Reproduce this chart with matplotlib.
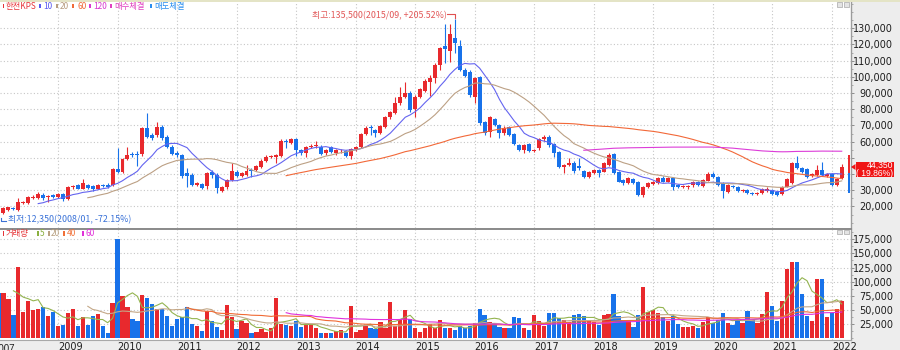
import numpy as np
import pandas as pd
import matplotlib
matplotlib.use("Agg")
import matplotlib.pyplot as plt
from matplotlib.patches import Rectangle, Polygon
from matplotlib.lines import Line2D

KR = ["Noto Sans CJK KR", "DejaVu Sans"]
NUM = ["Liberation Sans Narrow", "Liberation Sans", "DejaVu Sans"]

# ---- monthly OHLC / volume, 2007-12 .. 2022-03 ----
months = pd.period_range("2007-12", "2022-03", freq="M")

opens = [
    18000,
    19500, 16200, 17800, 19300, 17850, 22300, 21950, 25050, 25050, 27100, 25650, 27100,
    25650, 27700, 24400, 31850, 33250, 31000, 33250, 32650, 31000, 33250, 33250, 33250,
    42950, 41500, 49100, 52400, 52500, 52200, 68250, 64150, 64150, 68850, 63100, 56950,
    53250, 51800, 40450, 39450, 33250, 33900, 32850, 41500, 39450, 29750, 31850, 36400,
    41500, 38800, 39450, 42500, 42500, 44600, 48300, 50350, 50750, 51150, 60650, 59400,
    61450, 54850, 52800, 56950, 57300, 56950, 52800, 56950, 53250, 54000, 54450, 51150,
    55300, 56900, 64750, 69300, 67200, 65150, 69300, 75050, 77500, 83700, 87800, 89850,
    79950, 87800, 91500, 97000, 99000, 107350, 119100, 115950, 123800, 119050, 104250, 103250,
    87800, 99750, 72350, 66200, 73800, 70300, 65550, 68850, 64750, 57950, 54850, 58350,
    54450, 55900, 61450, 63100, 58600, 53850, 44500, 45600, 47050, 45000, 41900, 38400,
    40450, 42500, 41500, 45600, 52400, 41500, 36350, 34300, 36750, 35350, 27100, 31850,
    33900, 34700, 37400, 35350, 37400, 33250, 31850, 31850, 33000, 35350, 32650, 35950,
    40050, 38000, 34300, 29150, 32650, 31850, 29750, 30200, 28550, 27700, 28150, 29750,
    30200, 29150, 27700, 32250, 34300, 46650, 43550, 42950, 38850, 39450, 42550, 38850,
    40050, 33250, 37400,
]
highs = [
    24000,
    20500, 19900, 19900, 19800, 25050, 23500, 26500, 27000, 28950, 28000, 27000, 27700,
    28500, 28300, 32500, 33500, 33800, 36750, 34000, 33300, 34000, 34000, 34300, 44000,
    55900, 50000, 56500, 53500, 54000, 69000, 77500, 65500, 72350, 70000, 64000, 58000,
    54000, 52500, 43550, 40500, 35000, 34500, 41500, 42500, 40500, 32500, 37000, 46650,
    42500, 41500, 45500, 43550, 45800, 49000, 51500, 52000, 52500, 61500, 61500, 62500,
    62000, 55500, 57500, 58500, 60650, 57800, 55500, 57500, 55500, 55500, 55000, 56000,
    57500, 65500, 69700, 70200, 68000, 70500, 76000, 79000, 87800, 93550, 97050, 91000,
    88500, 93000, 98500, 101000, 108500, 118500, 132600, 132600, 135500, 122800, 105500, 104000,
    100000, 100500, 73000, 76000, 74500, 71000, 69500, 69500, 65500, 58500, 58500, 59000,
    55500, 62000, 64150, 64000, 59000, 54500, 46000, 49750, 48000, 50150, 42500, 42000,
    43000, 43000, 47500, 52800, 53000, 42000, 37000, 38000, 37300, 36000, 32500, 35000,
    36000, 38000, 38850, 38000, 38000, 33800, 33200, 33200, 36000, 36000, 37000, 41500,
    41500, 38500, 35000, 34000, 33300, 32500, 30800, 30800, 29000, 29000, 31200, 31850,
    30800, 29700, 32400, 37400, 47500, 51150, 44500, 43500, 40800, 45600, 47700, 40800,
    40800, 37600, 46250,
]
lows = [
    16000,
    12350, 15400, 17200, 17900, 17450, 21500, 21500, 24500, 24800, 24000, 22500, 25000,
    25000, 23500, 23900, 31000, 30500, 30500, 30500, 29800, 30600, 32000, 31500, 32800,
    40500, 40800, 48500, 50500, 45000, 51000, 62000, 61000, 63000, 61000, 56000, 51500,
    50500, 37500, 32250, 32500, 32500, 30500, 31000, 37500, 28150, 29000, 31000, 35800,
    38000, 38000, 39000, 38400, 42000, 44000, 47500, 49800, 46650, 50500, 55900, 58500,
    51150, 52000, 50750, 56000, 55900, 51800, 52000, 53000, 51800, 53200, 50500, 49100,
    54500, 56000, 64000, 64150, 63100, 64500, 68500, 74000, 77000, 82500, 87000, 78500,
    75050, 87000, 90500, 88000, 96500, 104250, 108400, 109400, 114700, 103500, 99750, 87500,
    83700, 70500, 64000, 63100, 69500, 62100, 64150, 63500, 58000, 54000, 52800, 53800,
    53800, 55000, 60500, 57000, 50750, 44000, 40450, 45000, 40450, 42500, 37800, 37800,
    40000, 38400, 41000, 45000, 40000, 34800, 33500, 33800, 33800, 26500, 26050, 31200,
    33300, 34000, 34800, 34800, 30200, 31500, 31200, 30600, 31850, 32800, 32000, 35500,
    37500, 32800, 25050, 28600, 31200, 29200, 29200, 27600, 27000, 27200, 27600, 29200,
    27200, 26600, 27200, 31800, 33800, 42900, 40500, 37800, 38200, 39000, 38800, 38200,
    32600, 32500, 36800,
]
closes = [
    19500,
    16200, 18900, 19500, 18250, 22950, 22900, 25650, 26050, 27700, 25050, 26500, 25650,
    27700, 24400, 31850, 32650, 31000, 34300, 31200, 30600, 33250, 32650, 32250, 42950,
    41500, 49100, 51800, 51800, 51800, 68250, 63100, 62100, 68850, 62100, 56950, 52400,
    51800, 38850, 38850, 33250, 34300, 31200, 40450, 39450, 31200, 31850, 36400, 42100,
    38800, 40450, 42100, 41900, 45000, 48300, 50750, 51150, 51800, 60650, 60000, 61450,
    54850, 52800, 56950, 57550, 57800, 52400, 54850, 53850, 54850, 54500, 51150, 55300,
    56950, 64750, 68250, 68250, 65150, 69700, 75050, 78150, 83700, 87400, 90250, 79550,
    87800, 92300, 97450, 99000, 107350, 117650, 117450, 126250, 120700, 104250, 100550, 88850,
    99100, 71350, 65150, 75450, 70300, 65150, 68650, 64150, 58600, 54850, 57950, 54450,
    54850, 61450, 63100, 57950, 53250, 44600, 45600, 46650, 41900, 43550, 38400, 41500,
    42500, 40450, 46650, 51800, 40900, 35350, 34300, 37400, 34300, 27100, 31850, 34300,
    35350, 37400, 35350, 37400, 31850, 32250, 32650, 32650, 35350, 33250, 36350, 40050,
    38000, 33250, 29750, 33250, 31850, 29750, 30200, 28150, 27500, 28550, 30600, 30600,
    27700, 27100, 31850, 36750, 46650, 43550, 41500, 38400, 40050, 42550, 39450, 40050,
    33250, 37000, 44350,
]
volumes = [
    150000,
    80000, 79300, 68700, 40900, 126500, 46800, 65700, 49800, 51600, 55700, 39800, 46800,
    21500, 23200, 45100, 51600, 21500, 38000, 23200, 39200, 42700, 21500, 9650, 61600,
    175500, 74600, 55700, 33300, 30900, 76400, 71600, 61000, 51600, 51600, 39800, 21500,
    33300, 36800, 55700, 25000, 21500, 13200, 48000, 30900, 20300, 14400, 58500, 38000,
    15600, 30900, 27400, 8500, 11400, 15600, 11400, 17300, 71600, 25000, 23200, 21500,
    30300, 20300, 24400, 24400, 18500, 9650, 8500, 9650, 12600, 14400, 9650, 56900,
    11400, 14400, 22100, 18500, 16100, 29100, 17300, 64000, 21500, 33300, 49800, 33300,
    17300, 11400, 17300, 24400, 17300, 32000, 18500, 17300, 14400, 21500, 17300, 21500,
    27400, 51000, 40900, 29100, 27400, 20300, 18500, 18500, 38000, 35000, 17300, 14400,
    40900, 30900, 21500, 43900, 43900, 35000, 32100, 29100, 40900, 42700, 39200, 30900,
    29100, 23200, 40900, 42700, 78100, 39200, 32000, 30900, 20300, 40900, 91100, 46800,
    49800, 45100, 36800, 30900, 39100, 25000, 20300, 20300, 21500, 17300, 29100, 36800,
    27400, 32100, 43900, 27400, 23200, 32100, 27400, 48600, 32100, 27400, 42700, 81100,
    57000, 31000, 65700, 122400, 134200, 134200, 78100, 39200, 30300, 104100, 104100, 36800,
    43900, 51000, 66300,
]

# current-month execution bar (buy side above, sell side below)
exec_buy = (40500, 51800)
exec_sell = (28500, 40500)

price_ma = [(10, "#6464f0"), (20, "#bca084"), (60, "#f26838"), (120, "#dc3cd8")]
volume_ma = [(5, "#94b450"), (20, "#c4a888"), (40, "#f06a34"), (60, "#e030dc")]
price_ticks = list(range(20000, 130001, 10000))
volume_ticks = list(range(25000, 175001, 25000))

o = np.array(opens, float)
h = np.array(highs, float)
l = np.array(lows, float)
c = np.array(closes, float)
v = np.array(volumes, float)
x = np.arange(len(months))

UP, DOWN = "#e8292d", "#1872ea"
colors = np.where(c >= o, UP, DOWN)

W, H = 900.0, 350.0
fig = plt.figure(figsize=(9, 3.5), dpi=100, facecolor="#ededed")


def box(x0, y0, x1, y1):
    return [x0 / W, 1 - y1 / H, (x1 - x0) / W, (y1 - y0) / H]


def px_rect(x0, y0, x1, y1, **kw):
    kw.setdefault("zorder", 10)
    r = Rectangle((x0 / W, 1 - y1 / H), (x1 - x0) / W, (y1 - y0) / H,
                  transform=fig.transFigure, **kw)
    fig.add_artist(r)
    return r


def px_text(xp, yp, s, color, size=6.0, ha="left", va="center", family=KR, **kw):
    return fig.text(xp / W, 1 - yp / H, s, color=color, fontsize=size,
                    ha=ha, va=va, family=family, zorder=11, **kw)


axp = fig.add_axes(box(0, 2, 851, 228))
axv = fig.add_axes(box(0, 229, 851, 340))

jan_idx = [i for i, p in enumerate(months) if p.month == 1 and p.year >= 2009]

for ax in (axp, axv):
    ax.set_facecolor("white")
    ax.set_xlim(1.30, 172.87)
    for s in ("top", "left"):
        ax.spines[s].set_visible(False)
    ax.spines["bottom"].set_visible(ax is axv)
    ax.spines["bottom"].set_color("#a8a8a8")
    ax.spines["right"].set_color("#9c9c9c")
    ax.spines["right"].set_linewidth(1.0)
    ax.yaxis.tick_right()
    ax.set_xticks(jan_idx)
    ax.tick_params(axis="x", length=0)
    ax.tick_params(axis="y", which="major", length=2.5, width=0.7, color="#8c8c8c",
                   labelsize=7, labelcolor="#1e1e1e", pad=27.7, labelfontfamily=NUM[0])
    ax.tick_params(axis="y", which="minor", length=1.5, width=0.6, color="#a0a0a0")
    ax.grid(True, which="major", color="#c6c6c6", linestyle=(0, (1, 2)), linewidth=0.8)
    ax.set_axisbelow(True)

axp.tick_params(axis="x", labelbottom=False)

# ---- price panel ----
axp.set_ylim(6700, 146200)
axp.set_yticks(price_ticks)
axp.set_yticks(range(10000, 146000, 5000), minor=True)
axp.set_yticklabels([f"{t:,}" for t in price_ticks])

axp.vlines(x, l, h, colors=colors, linewidth=0.8, zorder=3)
body_lo = np.minimum(o, c)
body_h = np.maximum(np.abs(c - o), 300)
axp.bar(x, body_h, bottom=body_lo, width=0.8, color=colors, linewidth=0, zorder=4)

cs = pd.Series(c)
for win, col in price_ma:
    axp.plot(x, cs.rolling(win).mean(), color=col, lw=0.8, zorder=5)

# execution bar at the right edge
xe = x[-1] + 1.45
axp.bar(xe, exec_buy[1] - exec_buy[0], bottom=exec_buy[0], width=0.46, color="#ec2a2e", lw=0, zorder=4)
axp.bar(xe, exec_sell[1] - exec_sell[0], bottom=exec_sell[0], width=0.46, color="#1a74ea", lw=0, zorder=4)

# highest / lowest annotations
last = c[-1]
ih = int(np.argmax(h))
hi = h[ih]
hi_txt = f"최고:{hi:,.0f}({months[ih].strftime('%Y/%m')}, {(hi / last - 1) * 100:+.2f}%)"
axp.plot([ih - 1.5, ih, ih], [hi + 3100, hi + 3100, hi + 600], color="#e05050", lw=0.8, zorder=6)
axp.text(ih - 1.7, hi + 2300, hi_txt, color="#e25858", fontsize=6.4, ha="right", va="center",
         family=KR, zorder=6)

il = int(np.argmin(l))
lo = l[il]
lo_txt = f"최저:{lo:,.0f}({months[il].strftime('%Y/%m')}, {(lo / last - 1) * 100:+.2f}%)"
axp.plot([il + 0.45, il + 0.45, il + 1.5], [lo + 700, lo - 1300, lo - 1300],
         color="#3a70d4", lw=0.8, zorder=6)
axp.text(il + 1.98, lo - 250, lo_txt, color="#3a72d8", fontsize=6.4, ha="left", va="center",
         family=KR, zorder=6)

# ---- volume panel ----
axv.set_ylim(-3400, 193200)
axv.set_yticks(volume_ticks)
axv.set_yticks(range(0, 193000, 12500), minor=True)
axv.set_yticklabels([f"{t:,}" for t in volume_ticks])
axv.bar(x, v, width=0.86, color=colors, linewidth=0, zorder=3)
vs = pd.Series(v)
for win, col in volume_ma:
    axv.plot(x, vs.rolling(win).mean(), color=col, lw=0.8, zorder=5)

axv.set_xticklabels([str(months[i].year) for i in jan_idx])
axv.tick_params(axis="x", labelsize=7, labelcolor="#1e1e1e", pad=1.2, labelfontfamily=NUM[0])
for lab in axv.get_xticklabels():
    lab.set_horizontalalignment("left")
axv.text(0, -0.035, str(months[0].year), transform=axv.get_xaxis_transform(),
         ha="left", va="top", fontsize=7, color="#1e1e1e", family=NUM, clip_on=False)

for ax in (axp, axv):
    for lab in ax.get_yticklabels():
        lab.set_horizontalalignment("right")

# ---- frame decorations ----
px_rect(0, 0, 900, 2, color="#e4e4c6", lw=0)
fig.add_artist(Line2D([0, 851 / W], [1 - 228.5 / H] * 2, transform=fig.transFigure,
                      color="#8a8a8a", lw=1.4, zorder=10))
for y0 in (2, 229):
    for x0 in (837, 844):
        px_rect(x0, y0 + 0.5, x0 + 4.8, y0 + 5, facecolor="#e4e4e4", edgecolor="#a8a8a8", lw=0.5)

# current price tag (covers the axis label it sits on)
fig.canvas.draw()
yc = H - axp.transData.transform((0, last))[1]
tag_top, tag_bot = yc - 5.3, yc + 9.7
for t, lab in zip(price_ticks, axp.get_yticklabels()):
    ty = H - axp.transData.transform((0, t))[1]
    if tag_top - 4 < ty < tag_bot + 4:
        lab.set_visible(False)
px_rect(856, tag_top, 893.5, tag_bot, color="#f01414", lw=0)
tri = Polygon([(851 / W, 1 - yc / H), (855.5 / W, 1 - (yc - 3) / H), (855.5 / W, 1 - (yc + 3) / H)],
              closed=True, transform=fig.transFigure, color="#f01414", lw=0, zorder=10)
fig.add_artist(tri)
chg = (c[-1] / c[-2] - 1) * 100
px_text(893, (tag_top + tag_bot) / 2 + 0.3, f"{last:,.0f}\n( {chg:.2f}%)", "white", size=6.2,
        ha="right", family=NUM, multialignment="right", linespacing=0.95)

# legends
price_legend = [("한전KPS", "#e63438", 2.7, 6.0), ("10", "#5a5af0", 39.3, 43.0),
                ("20", "#b89c80", 56.0, 60.0), ("60", "#f06a38", 72.3, 77.0),
                ("120", "#d838d0", 89.3, 93.0), ("매수체결", "#e040c0", 110.0, 114.0),
                ("매도체결", "#2a8ef0", 150.0, 154.0)]
for txt, col, sx, tx in price_legend:
    px_rect(sx, 4.2, sx + 1.8, 8.4, color=col, lw=0)
    px_text(tx, 6.2, txt, col, size=6.0)

volume_legend = [("거래량", "#e63438", 2.7, 6.0), ("5", "#8ab040", 36.7, 39.3),
                 ("20", "#b8a080", 47.7, 51.0), ("40", "#f07038", 63.3, 66.7),
                 ("60", "#e030d8", 81.7, 85.0)]
for txt, col, sx, tx in volume_legend:
    px_rect(sx, 231.3, sx + 1.8, 235.5, color=col, lw=0)
    px_text(tx, 233.6, txt, col, size=6.0)

fig.savefig("out.png", dpi=100, facecolor=fig.get_facecolor())
